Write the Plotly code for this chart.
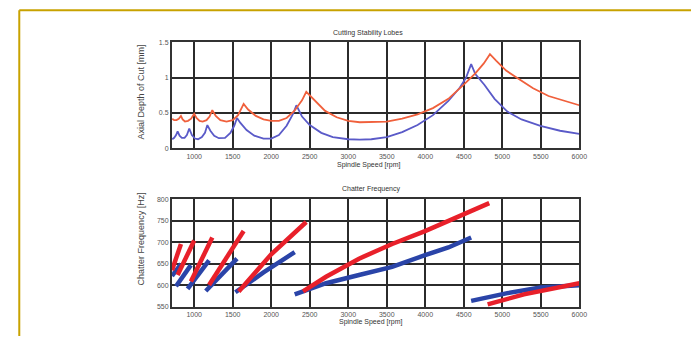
import plotly.graph_objects as go

# ---------------- data ----------------
# Top: cutting stability lobes (spindle speed rpm -> depth)
lobe_red_x = [715, 740, 770, 800, 828, 850, 880, 920, 960, 1000, 1030, 1070, 1110, 1160, 1200, 1235,
              1280, 1340, 1420, 1500, 1570, 1642, 1700, 1800, 1900, 2000, 2100, 2200, 2300, 2400, 2455,
              2550, 2700, 2850, 3000, 3150, 3300, 3500, 3700, 3900, 4100, 4300, 4500, 4650, 4760, 4840,
              4920, 5050, 5200, 5400, 5600, 5800, 6000]
lobe_red_y = [0.42, 0.40, 0.40, 0.42, 0.46, 0.41, 0.38, 0.39, 0.42, 0.49, 0.43, 0.39, 0.38, 0.40, 0.45, 0.54,
              0.46, 0.40, 0.38, 0.40, 0.47, 0.63, 0.55, 0.46, 0.41, 0.39, 0.39, 0.43, 0.53, 0.68, 0.80,
              0.69, 0.53, 0.44, 0.39, 0.37, 0.37, 0.38, 0.42, 0.48, 0.57, 0.70, 0.90, 1.06, 1.20, 1.33,
              1.24, 1.10, 0.99, 0.85, 0.74, 0.67, 0.61]
lobe_blue_x = [715, 740, 765, 785, 810, 840, 875, 905, 936, 970, 1010, 1050, 1100, 1140, 1171, 1210,
               1260, 1320, 1400, 1470, 1520, 1556, 1600, 1680, 1780, 1900, 2000, 2100, 2200, 2280, 2327,
               2400, 2500, 2650, 2800, 3000, 3150, 3300, 3500, 3700, 3900, 4100, 4300, 4450, 4530, 4596,
               4650, 4767, 4900, 5066, 5250, 5495, 5750, 6000]
lobe_blue_y = [0.13, 0.15, 0.19, 0.24, 0.18, 0.15, 0.15, 0.19, 0.28, 0.19, 0.14, 0.13, 0.16, 0.22, 0.33, 0.25,
               0.18, 0.145, 0.15, 0.22, 0.32, 0.43, 0.36, 0.26, 0.18, 0.14, 0.14, 0.19, 0.32, 0.48, 0.61,
               0.45, 0.33, 0.22, 0.16, 0.13, 0.125, 0.13, 0.16, 0.23, 0.33, 0.47, 0.67, 0.86, 1.00, 1.19,
               1.05, 0.90, 0.70, 0.52, 0.41, 0.32, 0.25, 0.205]

# Bottom: chatter frequency segments (None separates segments)
chat_red_x = [712, 770, 828, None, 785, 890, 1000, None, 957, 1100, 1235, None, 1193, 1420, 1642, None,
              1578, 2000, 2455, None, 2413, 2712, 3140, 3570, 3997, 4424, 4831, None, 4810, 5281, 6000]
chat_red_y = [635, 668, 696, None, 624, 665, 704, None, 609, 662, 711, None, 601, 666, 726, None,
              586, 672, 747, None, 586, 620, 662, 696, 726, 760, 791, None, 556, 579, 605]
chat_blue_x = [712, 830, None, 764, 957, None, 914, 1193, None, 1150, 1556, None, 1535, 1900, 2305, None,
               2305, 2712, 3140, 3569, 3997, 4300, 4596, None, 4596, 5066, 5495, 6000]
chat_blue_y = [622, 650, None, 598, 647, None, 592, 658, None, 587, 662, None, 584, 630, 677, None,
               579, 605, 624, 643, 670, 688, 711, None, 564, 582, 595, 600]

x_ticks = [1000, 1500, 2000, 2500, 3000, 3500, 4000, 4500, 5000, 5500, 6000]
top_y_ticks = [0, 0.5, 1, 1.5]
top_y_labels = ["0", "0.5", "1", "1.5"]
bot_y_ticks = [550, 600, 650, 700, 750, 800]

W, H = 699, 339
def px(x):
    return x / W
def py(y):
    return 1 - y / H

fig = go.Figure()
fig.add_trace(go.Scatter(x=lobe_blue_x, y=lobe_blue_y, mode="lines",
                         line=dict(color="#5a5ac8", width=1.8), xaxis="x", yaxis="y"))
fig.add_trace(go.Scatter(x=lobe_red_x, y=lobe_red_y, mode="lines",
                         line=dict(color="#f0603c", width=1.8), xaxis="x", yaxis="y"))
fig.add_trace(go.Scatter(x=chat_blue_x, y=chat_blue_y, mode="lines", connectgaps=False,
                         line=dict(color="#2a44a8", width=4.5), xaxis="x2", yaxis="y2"))
fig.add_trace(go.Scatter(x=chat_red_x, y=chat_red_y, mode="lines", connectgaps=False,
                         line=dict(color="#e8202a", width=4.5), xaxis="x2", yaxis="y2"))

tickfont = dict(family="Liberation Sans, Arial, sans-serif", size=7, color="#555555")
common_x = dict(range=[712, 6000], tickvals=x_ticks, showgrid=True, gridcolor="#2b2b2b", gridwidth=2,
                showline=True, linecolor="#333333", linewidth=2, mirror=True, zeroline=False,
                tickfont=tickfont, ticks="", domain=[px(174), px(586)])
common_y = dict(showgrid=True, gridcolor="#2b2b2b", gridwidth=2, showline=True, linecolor="#333333",
                linewidth=2, mirror=True, zeroline=False, tickfont=tickfont, ticks="")

fig.update_layout(
    width=W, height=H, margin=dict(l=0, r=0, t=0, b=0),
    paper_bgcolor="white", plot_bgcolor="white", showlegend=False,
    xaxis=dict(**common_x, anchor="y"),
    yaxis=dict(**common_y, range=[0, 1.5], tickvals=top_y_ticks, ticktext=top_y_labels,
               domain=[py(147.5), py(39)], anchor="x"),
    xaxis2=dict(**common_x, anchor="y2"),
    yaxis2=dict(**common_y, range=[550, 800], tickvals=bot_y_ticks,
                domain=[py(309.3), py(199.3)], anchor="x2"),
)

txt = dict(family="Liberation Sans, Arial, sans-serif", size=7, color="#333333")
ann = [
    ("Cutting Stability Lobes", 372, 30, 0),
    ("Spindle Speed [rpm]", 373, 164, 0),
    ("Chatter Frequency", 375, 189, 0),
    ("Spindle Speed [rpm]", 375, 325, 0),
]
for t, x, y, a in ann:
    fig.add_annotation(text=t, x=px(x), y=py(y), xref="paper", yref="paper", showarrow=False,
                       font=txt, xanchor="center", yanchor="middle", textangle=a)
ylab = dict(family="Liberation Sans, Arial, sans-serif", size=9, color="#444444")
fig.add_annotation(text="Axial Depth of Cut [mm]", x=px(143), y=py(90), xref="paper", yref="paper",
                   showarrow=False, font=ylab, textangle=-90, xanchor="center", yanchor="middle")
fig.add_annotation(text="Chatter Frequency [Hz]", x=px(143), y=py(240), xref="paper", yref="paper",
                   showarrow=False, font=ylab, textangle=-90, xanchor="center", yanchor="middle")

# golden frame of the page
gold = "#c8a200"
fig.add_shape(type="line", xref="paper", yref="paper", x0=px(19.5), x1=1.0, y0=py(6.5), y1=py(6.5),
              line=dict(color=gold, width=2))
fig.add_shape(type="line", xref="paper", yref="paper", x0=px(19.5), x1=px(19.5), y0=py(6.5), y1=0,
              line=dict(color=gold, width=2))

fig.write_html("out.html")
